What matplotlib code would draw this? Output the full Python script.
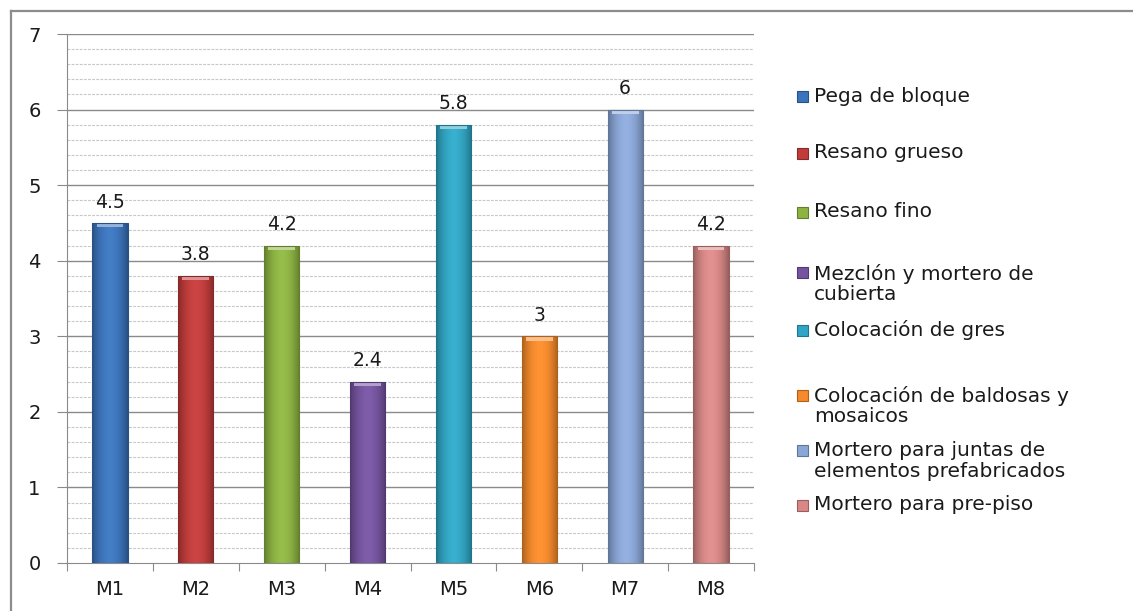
import matplotlib
matplotlib.use('Agg')
import matplotlib.pyplot as plt
from matplotlib.lines import Line2D
from matplotlib.patches import Rectangle
from matplotlib.colors import to_rgb
import numpy as np

#---data-------------------------------------------
categories = ['M1', 'M2', 'M3', 'M4', 'M5', 'M6', 'M7', 'M8']
values = [4.5, 3.8, 4.2, 2.4, 5.8, 3.0, 6.0, 4.2]
value_labels = ['4.5', '3.8', '4.2', '2.4', '5.8', '3', '6', '4.2']
legend_names = [
    'Pega de bloque',
    'Resano grueso',
    'Resano fino',
    'Mezclón y mortero de\ncubierta',
    'Colocación de gres',
    'Colocación de baldosas y\nmosaicos',
    'Mortero para juntas de\nelementos prefabricados',
    'Mortero para pre-piso',
]
bar_colors = ['#3a74bd', '#c23b3a', '#8db441', '#7553a0', '#2fa6c5', '#f78a2a', '#8aa7d8', '#d98886']
#--------------------------------------------------

W, H = 1133, 611
fig = plt.figure(figsize=(W / 100, H / 100), dpi=100)
fig.patch.set_facecolor('white')
plt.rcParams['font.family'] = ['DejaVu Sans']

# outer chart border (top + left only, the rest is cropped)
fig.add_artist(Line2D([11 / W, 11 / W], [0, 1 - 11 / H], color='#8c8c8c', lw=1.6))
fig.add_artist(Line2D([11 / W, 1], [1 - 11 / H, 1 - 11 / H], color='#8c8c8c', lw=1.6))

ax = fig.add_axes([67 / W, 1 - 563 / H, (754 - 67) / W, (563 - 34) / H])
x = np.arange(len(categories))
ax.set_xlim(-0.5, len(categories) - 0.5)
ax.set_ylim(0, 7)

# grid
for v in np.arange(0.2, 7.0, 0.2):
    if abs(v - round(v)) < 1e-6:
        ax.axhline(v, color='#8a8a8a', lw=1.0, zorder=1)
    else:
        ax.axhline(v, color='#c8c8c8', lw=0.8, ls=(0, (2.5, 1.2)), zorder=1)
ax.axhline(7, color='#8a8a8a', lw=1.0, zorder=1)

bars = ax.bar(x, values, width=0.41, color=bar_colors, zorder=3, linewidth=0)

# shaded look for each bar: darker edges, lighter middle
for b, c in zip(bars, bar_colors):
    base = np.array(to_rgb(c))
    t = np.linspace(-1, 1, 64)
    shade = 1 - 0.30 * np.abs(t) ** 2.2
    grad = np.clip(base[None, :] * shade[:, None] + 0.04 * (1 - np.abs(t))[:, None], 0, 1)
    img = np.repeat(grad[None, :, :], 2, axis=0)
    bx, by = b.get_x(), b.get_y()
    bw, bh = b.get_width(), b.get_height()
    im = ax.imshow(img, extent=(bx, bx + bw, by, by + bh), aspect='auto',
                   zorder=4, interpolation='bilinear')
    im.set_clip_path(b)
    # light bevel at top
    cap = Rectangle((bx + bw * 0.12, by + bh - 0.06), bw * 0.76, 0.06,
                    color=tuple(np.clip(base * 0.55 + 0.45, 0, 1)), zorder=5, lw=0)
    ax.add_patch(cap)
    ax.add_patch(Rectangle((bx, by), bw, bh, fill=False, ec=tuple(base * 0.7), lw=0.8, zorder=6))

for xi, v, lab in zip(x, values, value_labels):
    ax.text(xi, v + 0.15, lab, ha='center', va='bottom', fontsize=13.5,
            color='#1a1a1a', zorder=7)

# axes styling
for s in ['top', 'right']:
    ax.spines[s].set_visible(False)
ax.spines['left'].set_color('#8a8a8a')
ax.spines['bottom'].set_color('#8a8a8a')
ax.set_yticks(range(0, 8))
ax.set_xticks(np.arange(-0.5, len(categories), 1.0))
ax.set_xticklabels([])
ax.set_xticks(x, minor=True)
ax.set_xticklabels(categories, minor=True)
ax.tick_params(axis='y', length=7, color='#8a8a8a', pad=12, labelsize=14, labelcolor='#1a1a1a')
ax.tick_params(axis='x', which='major', length=6, color='#8a8a8a')
ax.tick_params(axis='x', which='minor', length=0, pad=12, labelsize=14, labelcolor='#1a1a1a')

# legend
leg_rows = [96, 153, 212, 284, 330, 406, 461, 505]
marker_rows = [96, 153, 212, 272, 330, 395, 450, 505]
for name, c, yy, my in zip(legend_names, bar_colors, leg_rows, marker_rows):
    base = np.array(to_rgb(c))
    fig.add_artist(Rectangle((797 / W, 1 - (my + 6) / H), 11 / W, 11 / H,
                             transform=fig.transFigure, fc=c, ec=tuple(base * 0.7), lw=0.8))
    fig.text(814 / W, 1 - yy / H, name, ha='left', va='center',
             fontsize=14.5, color='#1a1a1a', linespacing=1.1)

fig.savefig('out.png', dpi=100)
